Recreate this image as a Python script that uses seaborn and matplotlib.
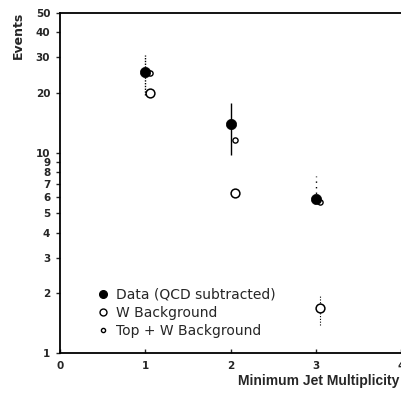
import matplotlib
matplotlib.use("Agg")
import matplotlib.pyplot as plt
import seaborn as sns
import pandas as pd
from matplotlib.ticker import FixedLocator, NullLocator, FixedFormatter
from matplotlib.lines import Line2D

# ---- data ----
multiplicity = [1, 2, 3]
data_events = [25.4, 14.0, 5.9]
data_err_lo = [19.5, 9.8, 5.9]
data_err_hi = [31.0, 17.8, 7.7]

bkg_x = [1.05, 2.05, 3.05]
w_background = [20.0, 6.3, 1.68]
w_err_lo = [20.0, 6.3, 1.38]
w_err_hi = [20.0, 6.3, 1.95]

top_w_background = [25.0, 11.6, 5.7]

y_ticks = [1, 2, 3, 4, 5, 6, 7, 8, 9, 10, 20, 30, 40, 50]
x_ticks = [0, 1, 2, 3, 4]
legend_labels = ["Data (QCD subtracted)", "W Background", "Top + W Background"]

sns.set_style("ticks")
plt.rcParams['font.family'] = ['DejaVu Sans']

fig = plt.figure(figsize=(4.01, 3.96), dpi=100)
ax = fig.add_axes([60/401, 43/396, 341/401, 340/396])

df_data = pd.DataFrame({"x": multiplicity, "y": data_events})
df_w = pd.DataFrame({"x": bkg_x, "y": w_background})
df_t = pd.DataFrame({"x": bkg_x, "y": top_w_background})

# error bars
ax.vlines(multiplicity, data_err_lo, data_err_hi, colors="black", lw=1.0,
          linestyles=[(0, (1, 1)), "-", (0, (1, 3))], zorder=2)
ax.vlines(bkg_x, w_err_lo, w_err_hi, colors="black", lw=0.8, linestyles=(0, (1, 1.5)), zorder=2)

sns.scatterplot(data=df_t, x="x", y="y", ax=ax, marker="o", s=14,
                facecolor="white", edgecolor="black", linewidth=1.0, zorder=3, legend=False)
sns.scatterplot(data=df_w, x="x", y="y", ax=ax, marker="o", s=40,
                facecolor="white", edgecolor="black", linewidth=1.1, zorder=3, legend=False)
sns.scatterplot(data=df_data, x="x", y="y", ax=ax, marker="o", s=55,
                color="black", edgecolor="black", linewidth=0.5, zorder=4, legend=False)

ax.set_yscale("log")
ax.set_ylim(1, 50)
ax.set_xlim(0, 4)
ax.yaxis.set_major_locator(FixedLocator(y_ticks))
ax.yaxis.set_major_formatter(FixedFormatter([str(v) for v in y_ticks]))
ax.yaxis.set_minor_locator(NullLocator())
ax.set_xticks(x_ticks)
ax.set_xticklabels([str(v) for v in x_ticks])

ax.tick_params(axis="y", direction="out", length=3, width=1, labelsize=7.5, pad=4)
ax.tick_params(axis="x", direction="in", length=3, width=1, labelsize=7.5, pad=6)
for lab in ax.get_xticklabels() + ax.get_yticklabels():
    lab.set_fontweight("bold")

for side in ["left", "bottom", "top"]:
    ax.spines[side].set_linewidth(1.3)
    ax.spines[side].set_color("black")
ax.spines["right"].set_visible(False)

ax.set_xlabel("")
ax.set_ylabel("")
fig.text(18/401, 1 - 35/396, "Events", rotation=90, ha="center", va="center",
         fontsize=9, fontweight="bold")
fig.text(238/401, 1 - 381/396, "Minimum Jet Multiplicity", ha="left", va="center",
         fontsize=10, fontweight="bold", family=["Liberation Sans", "DejaVu Sans"])

handles = [
    Line2D([], [], marker="o", ls="", color="black", markersize=5.5),
    Line2D([], [], marker="o", ls="", markerfacecolor="white", markeredgecolor="black", markersize=5),
    Line2D([], [], marker="o", ls="", markerfacecolor="white", markeredgecolor="black", markersize=3),
]
ax.legend(handles, legend_labels, loc="lower left", bbox_to_anchor=(0.09, 0.028),
          frameon=False, fontsize=10, handletextpad=0.4, labelspacing=0.3,
          handlelength=1.0, borderaxespad=0)

fig.savefig("out.png", dpi=100)
